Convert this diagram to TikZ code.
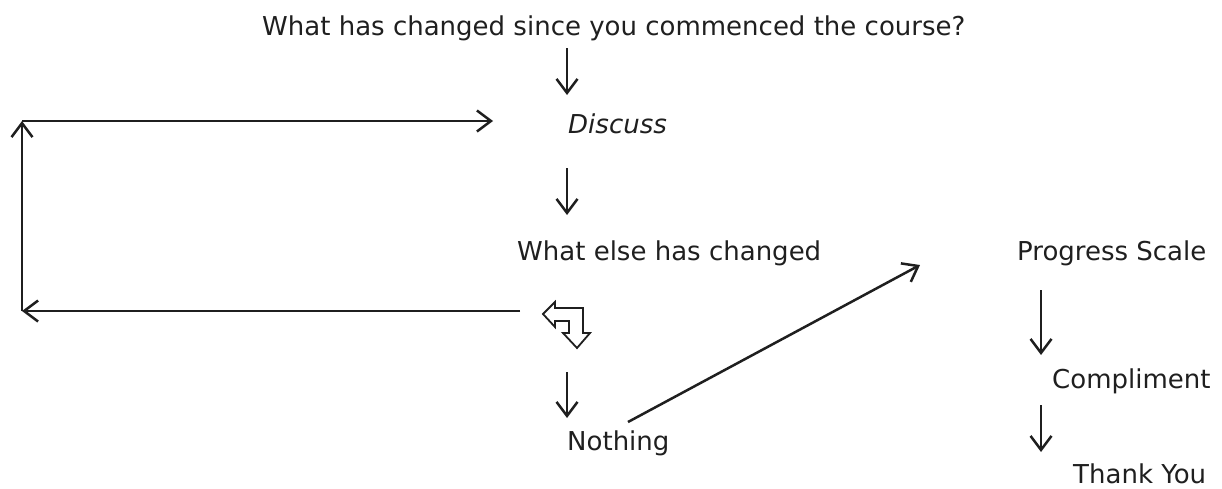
\documentclass[tikz,border=0pt]{standalone}
\usepackage{fontspec}
\setmainfont{DejaVu Sans}
\usetikzlibrary{arrows.meta}
\tikzset{
  lbl/.style={anchor=base west, inner sep=0pt, text=black!88, font=\fontsize{26}{30}\selectfont},
  conn/.style={line width=2.5pt, draw=black!88, -{Straight Barb[length=14pt,width=21pt,line width=2.5pt]}},
  hollow/.style={draw=black!88, line width=1.8pt, fill=white, line join=miter}
}
\begin{document}
\begin{tikzpicture}[x=1pt,y=-1pt]
\useasboundingbox (0,0) rectangle (1222,488);
% text nodes
\node[lbl] (title) at (262,35) {What has changed since you commenced the course?};
\node[lbl, font=\fontsize{26}{30}\selectfont\itshape] (discuss) at (568,133) {Discuss};
\node[lbl] (else) at (517,260) {What else has changed};
\node[lbl] (nothing) at (567,450) {Nothing};
\node[lbl] (progress) at (1017,260) {Progress Scale};
\node[lbl] (compliment) at (1052,388) {Compliment};
\node[lbl] (thanks) at (1073,483) {Thank You};
% connector end points
\coordinate (a1s) at (567,48);  \coordinate (a1e) at (567,95);
\coordinate (a2s) at (567,168); \coordinate (a2e) at (567,215);
\coordinate (a3s) at (567,372); \coordinate (a3e) at (567,418);
\coordinate (a4s) at (1041,290); \coordinate (a4e) at (1041,355);
\coordinate (a5s) at (1041,405); \coordinate (a5e) at (1041,452);
\coordinate (ds) at (628,422); \coordinate (de) at (920,265);
\coordinate (lb) at (520,311); \coordinate (lbl0) at (22,311);
\coordinate (ltl) at (22,121); \coordinate (lte) at (493,121);
% connectors
\draw[conn] (a1s) -- (a1e);
\draw[conn] (a2s) -- (a2e);
\draw[conn] (a3s) -- (a3e);
\draw[conn] (a4s) -- (a4e);
\draw[conn] (a5s) -- (a5e);
\draw[conn] (ds) -- (de);
\draw[conn] (lb) -- (lbl0);
\draw[conn] (lbl0) -- (ltl);
\draw[conn] (ltl) -- (lte);
% hollow turn arrow
\draw[hollow] (543,314) -- (555,302) -- (555,308) -- (583,308) -- (583,333) -- (590,333)
  -- (577,348) -- (563,333) -- (569,333) -- (569,321) -- (555,321) -- (555,327) -- cycle;
\end{tikzpicture}
\end{document}
